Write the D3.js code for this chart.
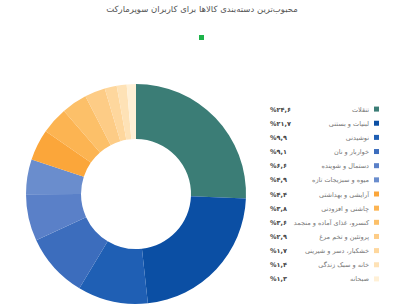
<!DOCTYPE html>
<html>
<head>
<meta charset="utf-8">
<script src="https://cdn.jsdelivr.net/npm/d3@7"></script>
<style>
  body { margin: 0; background: #fff; }
  svg { display: block; font-family: "DejaVu Sans", sans-serif; }
</style>
</head>
<body>
<div id="chart"></div>
<script>
// data
var categories = [
  "تنقلات",
  "لبنیات و بستنی",
  "نوشیدنی",
  "خواربار و نان",
  "دستمال و شوینده",
  "میوه و سبزیجات تازه",
  "آرایشی و بهداشتی",
  "چاشنی و افزودنی",
  "کنسرو، غذای آماده و منجمد",
  "پروتئین و تخم مرغ",
  "خشکبار، دسر و شیرینی",
  "خانه و سبک زندگی",
  "صبحانه"
];
var values = [24.6, 21.7, 9.9, 9.1, 6.6, 4.9, 4.4, 3.8, 3.6, 2.9, 1.7, 1.4, 1.3];
var colors = ["#3b7d76", "#0b4fa4", "#1f5fb4", "#3c6dbd", "#5a80c8", "#6a8dcd",
              "#fba63a", "#fcb452", "#fcc069", "#fdcc86", "#fed79d", "#fee2b6", "#fff0d6"];

var width = 400, height = 306;
var cx = 136, cy = 194, rOuter = 110, rInner = 55;

var persian = "۰۱۲۳۴۵۶۷۸۹";
function fa(v) {
  return "%" + v.toFixed(1).replace(/\d/g, function (c) { return persian[+c]; }).replace(".", ",");
}

var svg = d3.select("#chart").append("svg")
  .attr("width", width)
  .attr("height", height);

svg.append("text")
  .attr("x", 202)
  .attr("y", 12)
  .attr("text-anchor", "middle")
  .attr("direction", "rtl")
  .attr("font-size", 8.5)
  .attr("fill", "#555")
  .text("محبوب‌ترین دسته‌بندی کالاها برای کاربران سوپرمارکت");

svg.append("rect")
  .attr("x", 199).attr("y", 35)
  .attr("width", 5).attr("height", 5)
  .attr("fill", "#1db34a");

var pie = d3.pie().sort(null).value(function (d) { return d; });
var arc = d3.arc().innerRadius(rInner).outerRadius(rOuter);

svg.append("g")
  .attr("transform", "translate(" + cx + "," + cy + ")")
  .selectAll("path")
  .data(pie(values))
  .enter()
  .append("path")
  .attr("d", arc)
  .attr("fill", function (d, i) { return colors[i]; });

var y = d3.scaleBand().domain(d3.range(categories.length)).range([102, 286]);

var rows = svg.append("g").selectAll("g")
  .data(categories)
  .enter()
  .append("g")
  .attr("transform", function (d, i) { return "translate(0," + (y(i) + y.bandwidth() / 2) + ")"; });

rows.append("rect")
  .attr("x", 374).attr("y", -2.5)
  .attr("width", 5).attr("height", 5)
  .attr("fill", function (d, i) { return colors[i]; });

rows.append("text")
  .attr("x", 369)
  .attr("y", 2.5)
  .attr("text-anchor", "start")
  .attr("direction", "rtl")
  .attr("font-size", 6.5)
  .attr("fill", "#777")
  .text(function (d) { return d; });

rows.append("text")
  .attr("x", 270)
  .attr("y", 2.5)
  .attr("font-size", 6.5)
  .attr("font-weight", "bold")
  .attr("fill", "#444")
  .text(function (d, i) { return fa(values[i]); });
</script>
</body>
</html>
